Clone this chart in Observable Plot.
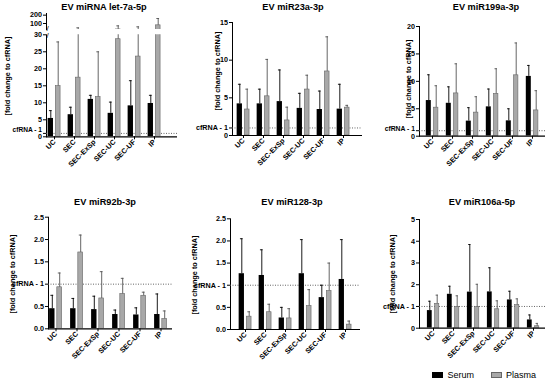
<!DOCTYPE html>
<html><head><meta charset="utf-8">
<script src="https://cdn.jsdelivr.net/npm/d3@7"></script>
<script src="https://cdn.jsdelivr.net/npm/@observablehq/plot@0.6"></script>
<style>
body{margin:0;background:#fff;}
#root{position:relative;width:550px;height:385px;overflow:hidden;font-family:"Liberation Sans",Arial,sans-serif;color:#000;}
.panel{position:absolute;}
.title{position:absolute;font-weight:bold;font-size:9.2px;transform:translate(-50%,-50%);white-space:nowrap;}
.ylab{position:absolute;font-weight:bold;font-size:7.3px;transform:translate(-50%,-50%) rotate(-90deg);white-space:nowrap;}
.lg{position:absolute;font-size:9px;white-space:nowrap;line-height:1;}
.sw{position:absolute;width:11px;height:6px;box-sizing:border-box;}
</style></head><body><div id="root"></div>
<script>
// ---- data ----
const categories = ["UC", "SEC", "SEC-ExSp", "SEC-UC", "SEC-UF", "IP"];
const seriesNames = ["Serum", "Plasma"];
const panelTitles = ["EV miRNA let-7a-5p", "EV miR23a-3p", "EV miR199a-3p", "EV miR92b-3p", "EV miR128-3p", "EV miR106a-5p"];
const yAxisTitle = "[fold change to cfRNA]";
const refLabel = "cfRNA - 1";
const refValue = [1];

const let7aSerum = [5.4, 6.5, 11.0, 6.9, 9.1, 9.8];
const let7aSerumSD = [2.3, 2.2, 1.2, 3.3, 7.4, 2.4];
const let7aPlasma = [14.9, 17.4, 11.7, 28.7, 23.6, 78];
const let7aPlasmaSD = [13.0, 30.6, 13.3, 43, 36.4, 82];

const mir23aSerum = [4.2, 4.2, 4.5, 3.6, 3.45, 3.5];
const mir23aSerumSD = [2.6, 1.95, 4.2, 2.0, 2.45, 3.3];
const mir23aPlasma = [3.45, 5.2, 2.0, 6.1, 8.5, 3.7];
const mir23aPlasmaSD = [2.7, 4.9, 1.76, 1.9, 4.6, 0.3];

const mir199aSerum = [6.5, 6.0, 2.75, 5.35, 2.8, 10.9];
const mir199aSerumSD = [4.7, 3.0, 2.45, 3.25, 2.2, 2.0];
const mir199aPlasma = [5.2, 7.8, 4.3, 7.7, 11.1, 4.7];
const mir199aPlasmaSD = [4.0, 5.4, 2.9, 4.6, 5.9, 3.6];

const mir92bSerum = [0.45, 0.45, 0.43, 0.32, 0.31, 0.32];
const mir92bSerumSD = [0.30, 0.23, 0.30, 0.10, 0.16, 0.46];
const mir92bPlasma = [0.93, 1.71, 0.68, 0.78, 0.74, 0.22];
const mir92bPlasmaSD = [0.32, 0.39, 0.60, 0.35, 0.08, 0.18];

const mir128Serum = [1.26, 1.22, 0.26, 1.26, 0.72, 1.13];
const mir128SerumSD = [0.79, 0.58, 0.24, 0.77, 0.28, 0.90];
const mir128Plasma = [0.29, 0.39, 0.25, 0.53, 0.87, 0.11];
const mir128PlasmaSD = [0.11, 0.18, 0.22, 0.37, 0.63, 0.08];

const mir106aSerum = [0.81, 1.56, 1.66, 1.67, 1.30, 0.38];
const mir106aSerumSD = [0.43, 0.37, 2.19, 1.11, 0.40, 0.23];
const mir106aPlasma = [1.12, 0.98, 0.97, 0.87, 1.06, 0.09];
const mir106aPlasmaSD = [0.40, 0.51, 1.05, 0.39, 0.29, 0.13];

const let7aTicks = [0, 1, 5, 10, 15, 20, 25, 30];
const let7aUpperTicks = [100, 200];
const mir23aTicks = [0, 1, 5, 10, 15];
const mir199aTicks = [0, 1, 5, 10, 15, 20];
const mir92bTicks = [0, 0.5, 1, 1.5, 2, 2.5];
const mir128Ticks = [0, 0.5, 1, 1.5, 2, 2.5];
const mir106aTicks = [0, 1, 2, 3, 4, 5];

// ---- layout (pixels) ----
const panels = [
  {title: panelTitles[0], serum: let7aSerum, serumSD: let7aSerumSD, plasma: let7aPlasma, plasmaSD: let7aPlasmaSD,
   domain: [0, 30], ticks: let7aTicks, dec: 0, upper: {domain: [28, 220], ticks: let7aUpperTicks},
   left: 0, top: 0, w: 183, h: 185, ml: 46, mr: 6, mt: 34.3, mb: 48.7, c0: 53.2, sp: 20.45,
   tx: 104, ty: 7.3, lx: 7, ly: 76, rdy: -3.2, rfs: 6.6},
  {title: panelTitles[1], serum: mir23aSerum, serumSD: mir23aSerumSD, plasma: mir23aPlasma, plasmaSD: mir23aPlasmaSD,
   domain: [0, 15], ticks: mir23aTicks, dec: 0,
   left: 183, top: 0, w: 183, h: 185, ml: 49, mr: 4, mt: 22, mb: 50, c0: 58.5, sp: 20.5,
   tx: 293, ty: 7.3, lx: 217, ly: 71, rdy: 0, rfs: 7.2},
  {title: panelTitles[2], serum: mir199aSerum, serumSD: mir199aSerumSD, plasma: mir199aPlasma, plasmaSD: mir199aPlasmaSD,
   domain: [0, 20], ticks: mir199aTicks, dec: 0,
   left: 366, top: 0, w: 184, h: 185, ml: 53, mr: 5, mt: 26, mb: 49.3, c0: 64, sp: 20.8,
   tx: 486, ty: 7.3, lx: 408, ly: 79, rdy: -2.4, rfs: 6.8},
  {title: panelTitles[3], serum: mir92bSerum, serumSD: mir92bSerumSD, plasma: mir92bPlasma, plasmaSD: mir92bPlasmaSD,
   domain: [0, 2.5], ticks: mir92bTicks, dec: 1,
   left: 0, top: 185, w: 183, h: 200, ml: 48, mr: 11, mt: 31.7, mb: 56.7, c0: 55, sp: 21.4,
   tx: 105, ty: 201.7, lx: 12, ly: 274, rdy: 0, rfs: 7.2},
  {title: panelTitles[4], serum: mir128Serum, serumSD: mir128SerumSD, plasma: mir128Plasma, plasmaSD: mir128PlasmaSD,
   domain: [0, 2.5], ticks: mir128Ticks, dec: 1,
   left: 183, top: 185, w: 183, h: 200, ml: 47, mr: 6, mt: 33.3, mb: 56, c0: 60.3, sp: 20.5,
   tx: 292, ty: 201.7, lx: 194, ly: 275, rdy: 0, rfs: 7.2},
  {title: panelTitles[5], serum: mir106aSerum, serumSD: mir106aSerumSD, plasma: mir106aPlasma, plasmaSD: mir106aPlasmaSD,
   domain: [0, 5], ticks: mir106aTicks, dec: 0,
   left: 366, top: 185, w: 184, h: 200, ml: 53, mr: 5, mt: 34, mb: 57.3, c0: 64.7, sp: 21,
   tx: 482, ty: 201.7, lx: 392, ly: 274, rdy: 0, rfs: 7.2}
];

const root = document.getElementById("root");
const svgStyle = {fontFamily: "Liberation Sans, Arial, sans-serif", fontSize: "7.2px", fontWeight: "bold", background: "transparent", overflow: "visible", color: "#000"};
const BW = 5.8, GAP = 0.8;

function rowsFor(values, sds, name) {
  return categories.map((c, i) => ({cat: c, series: name, value: values[i], top: values[i] + sds[i]}));
}

function dataMarks(p, clip) {
  const half = p.sp / 2;
  const s = rowsFor(p.serum, p.serumSD, seriesNames[0]);
  const q = rowsFor(p.plasma, p.plasmaSD, seriesNames[1]);
  const sc = GAP + BW / 2; // bar center offset
  return [
    Plot.barY(s, {x: "cat", y: "value", fill: "#000", insetLeft: half - GAP - BW, insetRight: half + GAP, clip}),
    Plot.barY(q, {x: "cat", y: "value", fill: "#a8a8a8", stroke: "#666", strokeWidth: 0.6, insetLeft: half + GAP + 0.3, insetRight: half - GAP - BW + 0.3, clip}),
    Plot.ruleX(s, {x: "cat", y1: "value", y2: "top", dx: -sc, stroke: "#000", strokeWidth: 0.9, clip}),
    Plot.tickY(s, {x: "cat", y: "top", insetLeft: half - sc - 1.6, insetRight: half + sc - 1.6, stroke: "#000", strokeWidth: 0.9, clip}),
    Plot.ruleX(q, {x: "cat", y1: "value", y2: "top", dx: sc, stroke: "#555", strokeWidth: 0.9, clip}),
    Plot.tickY(q, {x: "cat", y: "top", insetLeft: half + sc - 1.6, insetRight: half - sc - 1.6, stroke: "#555", strokeWidth: 0.9, clip})
  ];
}

panels.forEach((p) => {
  const half = p.sp / 2;
  const xRange = [p.c0 - half, p.c0 + 5.5 * p.sp];
  const fmt = (d) => d === 1 ? "" : d.toFixed(p.dec);
  const chart = Plot.plot({
    width: p.w, height: p.h,
    marginLeft: p.ml, marginRight: p.mr, marginTop: p.mt, marginBottom: p.mb,
    style: svgStyle,
    x: {domain: categories, range: xRange, padding: 0, label: null, tickRotate: -45, tickSize: 3, tickPadding: 1},
    y: {domain: p.domain, ticks: p.ticks, tickFormat: fmt, line: true, label: null, tickSize: 3, tickPadding: 1.5},
    marks: [
      Plot.ruleY(refValue, {stroke: "#555", strokeWidth: 0.9, strokeDasharray: "1,1.5"}),
      ...dataMarks(p, true),
      Plot.ruleY([0], {stroke: "#000", strokeWidth: 1.2}),
      Plot.text(refValue, {y: (d) => d, text: () => refLabel, frameAnchor: "left", textAnchor: "end", dx: -4.5, dy: p.rdy, fontSize: p.rfs}),
      ...(p.upper ? [Plot.text(["/"], {frameAnchor: "top-left", dy: -2, fontSize: 8, fontWeight: "normal"})] : [])
    ]
  });
  chart.classList.add("panel");
  chart.style.left = p.left + "px";
  chart.style.top = p.top + "px";
  root.appendChild(chart);

  if (p.upper) {
    const up = Plot.plot({
      width: p.w, height: 32,
      marginLeft: p.ml, marginRight: p.mr, marginTop: 13, marginBottom: 3,
      style: svgStyle,
      x: {domain: categories, range: xRange, padding: 0, axis: null},
      y: {domain: p.upper.domain, ticks: p.upper.ticks, line: true, label: null, tickSize: 3, tickPadding: 1.5},
      marks: [
        ...dataMarks(p, true),
        Plot.text(["/"], {frameAnchor: "bottom-left", dy: 1, fontSize: 8, fontWeight: "normal"})
      ]
    });
    up.classList.add("panel");
    up.style.left = p.left + "px";
    up.style.top = p.top + "px";
    root.appendChild(up);
  }

  const t = document.createElement("div");
  t.className = "title"; t.textContent = p.title;
  t.style.left = p.tx + "px"; t.style.top = p.ty + "px";
  root.appendChild(t);
  const l = document.createElement("div");
  l.className = "ylab"; l.textContent = yAxisTitle;
  l.style.left = p.lx + "px"; l.style.top = p.ly + "px";
  root.appendChild(l);
});

// legend
const legendItems = [
  {name: seriesNames[0], color: "#000", border: "#000", sx: 431.7, lx: 447.5},
  {name: seriesNames[1], color: "#a8a8a8", border: "#666", sx: 490.5, lx: 506}
];
legendItems.forEach((it) => {
  const sw = document.createElement("div");
  sw.className = "sw"; sw.style.left = it.sx + "px"; sw.style.top = "372.3px";
  sw.style.background = it.color; sw.style.border = "0.6px solid " + it.border;
  root.appendChild(sw);
  const tx = document.createElement("div");
  tx.className = "lg"; tx.textContent = it.name;
  tx.style.left = it.lx + "px"; tx.style.top = "370.5px";
  root.appendChild(tx);
});
</script></body></html>
